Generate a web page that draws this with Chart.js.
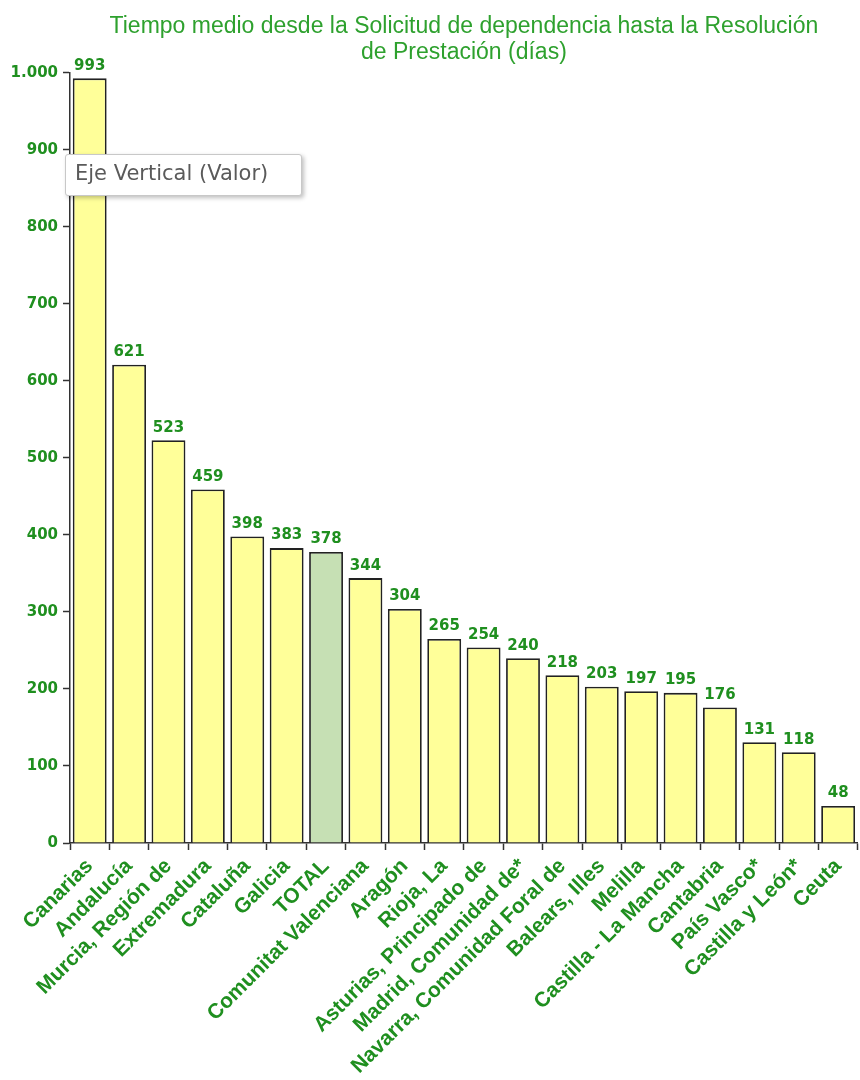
<!DOCTYPE html>
<html>
<head>
<meta charset="utf-8">
<script src="https://cdn.jsdelivr.net/npm/chart.js@4.4.0/dist/chart.umd.min.js"></script>
<style>
  body { margin: 0; background: #fff; }
  #wrap { position: relative; width: 860px; height: 1080px; }
  #tip {
    position: absolute; left: 65px; top: 154px; width: 237px; height: 42px;
    box-sizing: border-box; border: 1px solid #c8c8c8; border-radius: 3px;
    background: #fff; box-shadow: 2px 2px 4px rgba(0,0,0,0.25);
    font: 21px "DejaVu Sans", "Noto Sans", sans-serif; color: #5a5a5a;
    padding: 6px 0 0 9px; white-space: nowrap;
  }
</style>
</head>
<body>
<div id="wrap">
  <canvas id="chart" width="860" height="1080"></canvas>
  <div id="tip">Eje Vertical (Valor)</div>
</div>
<script>
const regiones = ['Canarias', 'Andalucía', 'Murcia, Región de', 'Extremadura', 'Cataluña', 'Galicia', 'TOTAL',
  'Comunitat Valenciana', 'Aragón', 'Rioja, La', 'Asturias, Principado de', 'Madrid, Comunidad de*',
  'Navarra, Comunidad Foral de', 'Balears, Illes', 'Melilla', 'Castilla - La Mancha', 'Cantabria',
  'País Vasco*', 'Castilla y León*', 'Ceuta'];
const dias = [993, 621, 523, 459, 398, 383, 378, 344, 304, 265, 254, 240, 218, 203, 197, 195, 176, 131, 118, 48];
const yTicks = [0, 100, 200, 300, 400, 500, 600, 700, 800, 900, 1000];

const green = '#1f8f1f';
const font = '"Liberation Sans", Arial, sans-serif';
const wide = '"DejaVu Sans", Verdana, sans-serif';

const fmt = v => String(v).replace(/\B(?=(\d{3})+(?!\d))/g, '.');

// valores encima de cada barra
const barLabels = {
    id: 'barLabels',
    afterDatasetsDraw(chart) {
        const ctx = chart.ctx;
        const meta = chart.getDatasetMeta(0);
        ctx.save();
        ctx.fillStyle = green;
        ctx.font = 'bold 15px ' + wide;
        ctx.textAlign = 'center';
        ctx.textBaseline = 'bottom';
        meta.data.forEach((bar, i) => {
            ctx.fillText(fmt(dias[i]), bar.x, bar.y - 5);
        });
        ctx.restore();
    }
};

const ctx = document.getElementById('chart').getContext('2d');
new Chart(ctx, {
    type: 'bar',
    data: {
        labels: regiones,
        datasets: [{
            data: dias,
            backgroundColor: regiones.map(r => r === 'TOTAL' ? '#c6e0b4' : '#ffff99'),
            borderColor: '#222',
            borderWidth: 1.8,
            barPercentage: 0.86,
            categoryPercentage: 1
        }]
    },
    options: {
        responsive: false,
        animation: false,
        layout: { padding: { top: 14, left: 0, right: 0, bottom: 0 } },
        plugins: {
            legend: { display: false },
            tooltip: { enabled: false },
            title: {
                display: true,
                fullSize: false,
                text: ['Tiempo medio desde la Solicitud de dependencia hasta la Resolución', 'de Prestación (días)'],
                color: '#2ea12e',
                font: { family: font, size: 23, weight: 'normal', lineHeight: 1.13 },
                padding: { top: 0, bottom: 7 }
            }
        },
        scales: {
            x: {
                grid: { display: true, drawOnChartArea: false, offset: true, tickLength: 7, color: '#333', tickWidth: 1.5 },
                border: { display: true, color: '#333', width: 1.5 },
                ticks: {
                    color: green,
                    font: { family: font, size: 21, weight: 'bold' },
                    maxRotation: 45, minRotation: 45, autoSkip: false, padding: 4
                },
                afterFit(scale) { scale.height = 237; }
            },
            y: {
                min: 0, max: 1000,
                afterBuildTicks(scale) { scale.ticks = yTicks.map(v => ({ value: v })); },
                grid: { display: true, drawOnChartArea: false, tickLength: 7, color: '#333', tickWidth: 1.5 },
                border: { display: true, color: '#333', width: 1.5 },
                ticks: {
                    color: green,
                    font: { family: wide, size: 15, weight: 'bold' },
                    padding: 5,
                    callback: v => fmt(v)
                },
                afterFit(scale) { scale.width = 70; }
            }
        }
    },
    plugins: [barLabels]
});
</script>
</body>
</html>
